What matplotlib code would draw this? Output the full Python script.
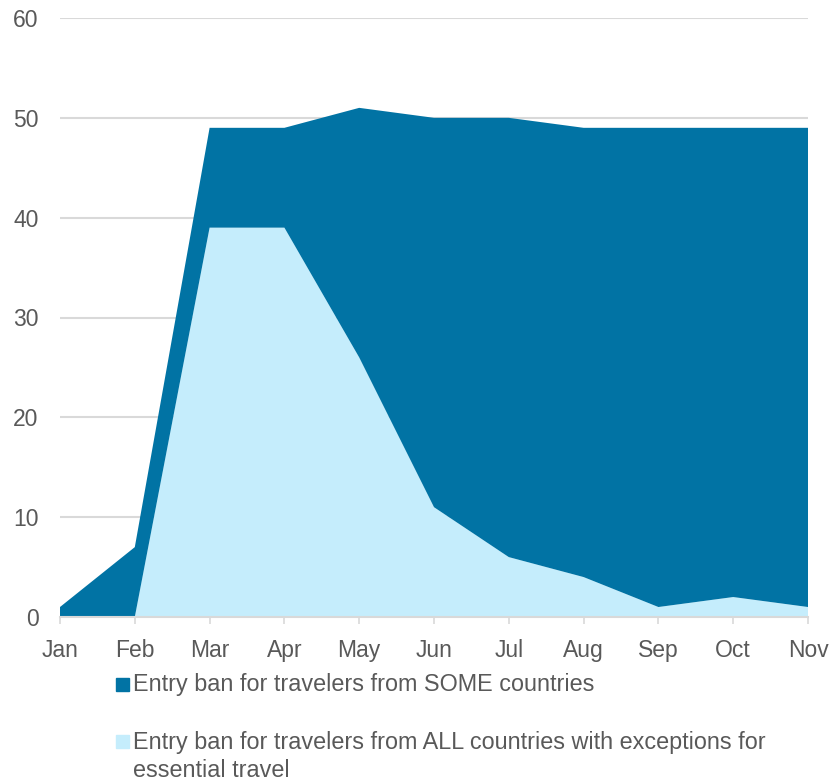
import matplotlib
matplotlib.use("Agg")
import matplotlib.pyplot as plt
from matplotlib.patches import Rectangle

months = ["Jan", "Feb", "Mar", "Apr", "May", "Jun", "Jul", "Aug", "Sep", "Oct", "Nov"]
# Number of countries with an entry ban for travelers from ALL countries
ban_all = [0, 0, 39, 39, 26, 11, 6, 4, 1, 2, 1]
# Total number of countries with any entry ban
ban_total = [1, 7, 49, 49, 51, 50, 50, 49, 49, 49, 49]
ban_some = [t - a for t, a in zip(ban_total, ban_all)]

label_some = ["Entry ban for travelers from SOME countries"]
label_all = ["Entry ban for travelers from ALL countries with exceptions for",
             "essential travel"]

dark = "#0173A4"
light = "#C5EDFC"
grey_text = "#595959"
grid_col = "#D9D9D9"

plt.rcParams["font.family"] = ["Liberation Sans", "DejaVu Sans"]

W, H = 833, 781
fig = plt.figure(figsize=(W / 100, H / 100), dpi=100)
ax = fig.add_axes([60 / W, 1 - 617 / H, (808 - 60) / W, (617 - 18) / H])

x = list(range(len(months)))
ax.stackplot(x, ban_all, ban_some, colors=[light, dark], linewidth=0, zorder=2)

ax.set_xlim(0, len(months) - 1)
ax.set_ylim(0, 60)
ax.set_yticks(range(0, 61, 10))
ax.set_xticks(x)
ax.set_xticklabels(months)
ax.yaxis.grid(True, color=grid_col, linewidth=1.5, zorder=0)
ax.set_axisbelow(True)

for side in ["top", "right", "left"]:
    ax.spines[side].set_visible(False)
ax.spines["bottom"].set_color(grid_col)
ax.spines["bottom"].set_linewidth(1.5)
ax.spines["bottom"].set_zorder(3)

ax.tick_params(axis="y", length=0, pad=15.5, labelsize=16.5, labelcolor=grey_text)
ax.tick_params(axis="x", length=5, width=1.2, color=grid_col, pad=11,
               labelsize=16.5, labelcolor=grey_text)

# Legend drawn as squares and text lines below the axes
def legend_item(square_top, baselines, lines, color):
    sq = 13
    fig.patches.append(Rectangle((116 / W, 1 - (square_top + sq) / H), sq / W, sq / H,
                                 transform=fig.transFigure, figure=fig,
                                 color=color))
    for yb, line in zip(baselines, lines):
        fig.text(133 / W, 1 - yb / H, line, ha="left", va="baseline",
                 fontsize=16.8, color=grey_text)

legend_item(678, [691], label_some, dark)
legend_item(735, [749, 777], label_all, light)

fig.savefig("out.png", dpi=100, facecolor="white")
